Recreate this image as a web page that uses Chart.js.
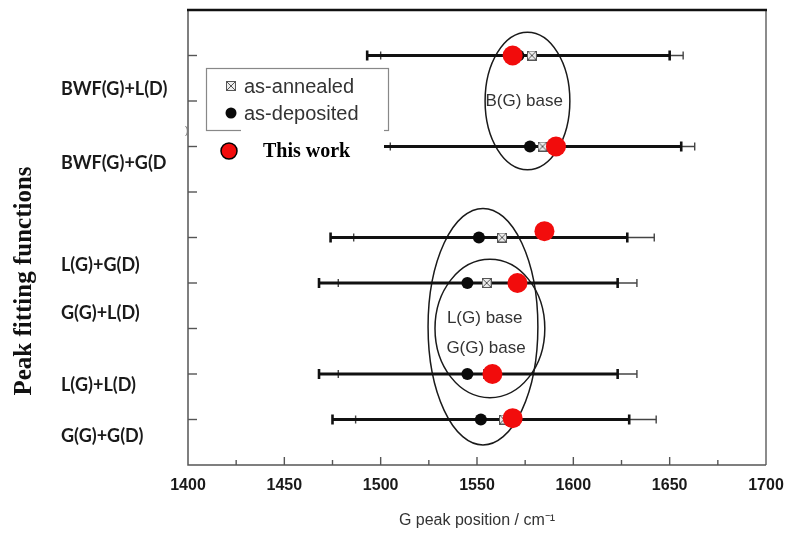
<!DOCTYPE html>
<html>
<head>
<meta charset="utf-8">
<script src="https://cdn.jsdelivr.net/npm/chart.js@4.4.1/dist/chart.umd.min.js"></script>
<style>
  html, body { margin: 0; padding: 0; background: #fff; }
  #wrap { width: 788px; height: 542px; }
</style>
</head>
<body>
<div id="wrap"><canvas id="peakChart" width="788" height="542"></canvas></div>
<script>
// fitting functions, one row each (row 1 is the bottom of the y scale)
const rowNames = ['BWF(G)+L(D)', 'BWF(G)+G(D', 'L(G)+G(D)', 'G(G)+L(D)', 'L(G)+L(D)', 'G(G)+G(D)'];
const rowY = [9, 7, 5, 4, 2, 1];
const rowLabelY = [8.26, 6.63, 4.39, 3.33, 1.76, 0.63];

// G peak positions (cm-1) with their spread
const depositedPos = [1571.5, 1577.5, 1551, 1545, 1545, 1552];
const depositedLo = [1493, 1499, 1474, 1468, 1468, 1475];
const depositedHi = [1650, 1656, 1628, 1623, 1623, 1629];
const annealedPos = [1578.5, 1584, 1563, 1555, 1555.5, 1564];
const annealedLo = [1500, 1505, 1486, 1478, 1478, 1487];
const annealedHi = [1657, 1663, 1642, 1633, 1633, 1643];
const thisWorkPos = [1568.5, 1591, 1585, 1571, 1558, 1568.5];
const thisWorkY = [9, 7, 5.14, 4, 2, 1.03];

// x axis ticks
const xMin = 1400, xMax = 1700, xStep = 50, xMinorStep = 25;

// grouping ellipses
const baseNames = ['B(G) base', 'L(G) base', 'G(G) base'];
const baseLabelX = [1574.5, 1554, 1554.7];
const baseLabelY = [8.0, 3.22, 2.57];
const ellipseCx = [1576.2, 1553.1, 1556.7];
const ellipseCy = [8.0, 3.04, 3.0];
const ellipseRx = [22, 28.5, 28.5];
const ellipseRy = [1.51, 2.6, 1.52];

function crossBox(size) {
  const c = document.createElement('canvas');
  c.width = size; c.height = size;
  const g = c.getContext('2d');
  g.fillStyle = '#ececec';
  g.fillRect(0, 0, size, size);
  g.strokeStyle = '#555';
  g.lineWidth = 1;
  g.strokeRect(0.5, 0.5, size - 1, size - 1);
  g.beginPath();
  g.moveTo(1, 1); g.lineTo(size - 1, size - 1);
  g.moveTo(size - 1, 1); g.lineTo(1, size - 1);
  g.stroke();
  return c;
}
const boxMark = crossBox(10);

const datasets = [];
rowY.forEach((y, i) => {
  datasets.push({
    label: 'annealed range ' + i,
    data: [{ x: annealedLo[i], y }, { x: annealedHi[i], y }],
    showLine: true, borderColor: '#444', borderWidth: 1.4,
    pointStyle: 'line', rotation: 90, pointRadius: 4,
    pointBorderColor: '#444', pointBorderWidth: 1.4, order: 4
  });
  datasets.push({
    label: 'deposited range ' + i,
    data: [{ x: depositedLo[i], y }, { x: depositedHi[i], y }],
    showLine: true, borderColor: '#111', borderWidth: 3,
    pointStyle: 'line', rotation: 90, pointRadius: 5,
    pointBorderColor: '#111', pointBorderWidth: 2.6, order: 3
  });
});
datasets.push({
  label: 'as-annealed',
  data: annealedPos.map((x, i) => ({ x, y: rowY[i] })),
  pointStyle: boxMark, order: 2
});
datasets.push({
  label: 'as-deposited',
  data: depositedPos.map((x, i) => ({ x, y: rowY[i] })),
  pointStyle: 'circle', pointRadius: 6, backgroundColor: '#0a0a0a', borderWidth: 0, order: 1
});
datasets.push({
  label: 'This work',
  data: thisWorkPos.map((x, i) => ({ x, y: thisWorkY[i] })),
  pointStyle: 'circle', pointRadius: 10, backgroundColor: '#f20c0c', borderWidth: 0, order: 0
});

const decorations = {
  id: 'decorations',
  beforeDatasetsDraw(chart) {
    const { ctx, scales: { x, y } } = chart;
    ctx.save();
    ctx.strokeStyle = '#1a1a1a';
    ctx.lineWidth = 1.5;
    ellipseCx.forEach((cx, i) => {
      const px = x.getPixelForValue(cx), py = y.getPixelForValue(ellipseCy[i]);
      const rx = x.getPixelForValue(cx + ellipseRx[i]) - px;
      const ry = py - y.getPixelForValue(ellipseCy[i] + ellipseRy[i]);
      ctx.beginPath();
      ctx.ellipse(px, py, rx, ry, 0, 0, Math.PI * 2);
      ctx.stroke();
    });
    ctx.fillStyle = '#333';
    ctx.font = '17px "Liberation Sans", Arial, sans-serif';
    ctx.textAlign = 'center';
    ctx.textBaseline = 'middle';
    baseNames.forEach((t, i) => {
      ctx.fillText(t, x.getPixelForValue(baseLabelX[i]), y.getPixelForValue(baseLabelY[i]));
    });
    ctx.restore();
  },
  afterDraw(chart) {
    const { ctx, chartArea: a, scales: { x, y } } = chart;
    ctx.save();

    // frame
    ctx.lineCap = 'butt';
    ctx.strokeStyle = '#666';
    ctx.lineWidth = 1.5;
    ctx.beginPath();
    ctx.moveTo(a.right, a.top); ctx.lineTo(a.right, a.bottom);
    ctx.stroke();
    ctx.strokeStyle = '#555';
    ctx.beginPath();
    ctx.moveTo(a.left, a.top); ctx.lineTo(a.left, a.bottom); ctx.lineTo(a.right, a.bottom);
    ctx.stroke();
    ctx.strokeStyle = '#111';
    ctx.lineWidth = 2.5;
    ctx.beginPath();
    ctx.moveTo(a.left - 1, a.top); ctx.lineTo(a.right + 1, a.top);
    ctx.stroke();

    // inward ticks
    ctx.strokeStyle = '#555';
    ctx.lineWidth = 1.4;
    for (let v = xMin + xMinorStep; v < xMax; v += xMinorStep) {
      const px = x.getPixelForValue(v);
      const len = (v - xMin) % xStep === 0 ? 8 : 5;
      ctx.beginPath(); ctx.moveTo(px, a.bottom); ctx.lineTo(px, a.bottom - len); ctx.stroke();
    }
    for (let v = 1; v <= 9; v++) {
      const py = y.getPixelForValue(v);
      ctx.beginPath(); ctx.moveTo(a.left, py); ctx.lineTo(a.left + 9, py); ctx.stroke();
    }

    // row names
    ctx.fillStyle = '#1a1a1a';
    ctx.font = 'bold 18px Lato, "Liberation Sans", Arial, sans-serif';
    ctx.textAlign = 'left';
    ctx.textBaseline = 'middle';
    rowNames.forEach((t, i) => ctx.fillText(t, 61, y.getPixelForValue(rowLabelY[i])));
    ctx.fillStyle = '#777';
    ctx.font = '10px "Liberation Sans", Arial, sans-serif';
    ctx.fillText(')', 185, 131);

    // y title
    ctx.save();
    ctx.translate(25, 281);
    ctx.rotate(-Math.PI / 2);
    ctx.textAlign = 'center';
    ctx.fillStyle = '#111';
    ctx.font = 'bold 25px "Liberation Serif", "Times New Roman", serif';
    ctx.fillText('Peak fitting functions', 0, 0);
    ctx.restore();

    // legend
    ctx.fillStyle = '#fff';
    ctx.fillRect(206, 68, 182, 62);
    ctx.strokeStyle = '#888';
    ctx.lineWidth = 1.2;
    ctx.strokeRect(206.5, 68.5, 182, 62);
    ctx.drawImage(boxMark, 226, 81);
    ctx.fillStyle = '#0a0a0a';
    ctx.beginPath(); ctx.arc(231, 113, 5.5, 0, Math.PI * 2); ctx.fill();
    ctx.fillStyle = '#333';
    ctx.font = '20px "Liberation Sans", Arial, sans-serif';
    ctx.fillText('as-annealed', 244, 87);
    ctx.fillText('as-deposited', 244, 114);

    ctx.fillStyle = '#fff';
    ctx.fillRect(241, 127, 143, 46);
    ctx.fillStyle = '#f20c0c';
    ctx.strokeStyle = '#000';
    ctx.lineWidth = 1.5;
    ctx.beginPath(); ctx.arc(229, 151, 8, 0, Math.PI * 2); ctx.fill(); ctx.stroke();
    ctx.fillStyle = '#000';
    ctx.font = 'bold 20px "Liberation Serif", "Times New Roman", serif';
    ctx.fillText('This work', 263, 152);

    ctx.restore();
  }
};

new Chart(document.getElementById('peakChart'), {
  type: 'scatter',
  data: { datasets },
  options: {
    responsive: false,
    animation: false,
    events: [],
    layout: { padding: { top: 5, right: 22, left: 0, bottom: 0 } },
    plugins: { legend: { display: false }, tooltip: { enabled: false } },
    scales: {
      x: {
        min: xMin, max: xMax,
        grid: { display: false, drawTicks: false },
        border: { display: false },
        ticks: {
          stepSize: xStep, padding: 11, color: '#1a1a1a',
          callback: (v) => String(v),
          font: { family: '"Liberation Sans", Arial, sans-serif', size: 16, weight: 'bold' }
        },
        title: {
          display: true, text: 'G peak position / cm⁻¹', color: '#333',
          font: { family: '"Liberation Sans", Arial, sans-serif', size: 16 },
          padding: { top: 0, bottom: 12 }
        },
        afterFit: (s) => { s.height = 77; s.paddingLeft = 0; s.paddingRight = 0; }
      },
      y: {
        min: 0, max: 10,
        grid: { display: false, drawTicks: false },
        border: { display: false },
        ticks: { display: false },
        afterFit: (s) => { s.width = 188; }
      }
    }
  },
  plugins: [decorations]
});
</script>
</body>
</html>
